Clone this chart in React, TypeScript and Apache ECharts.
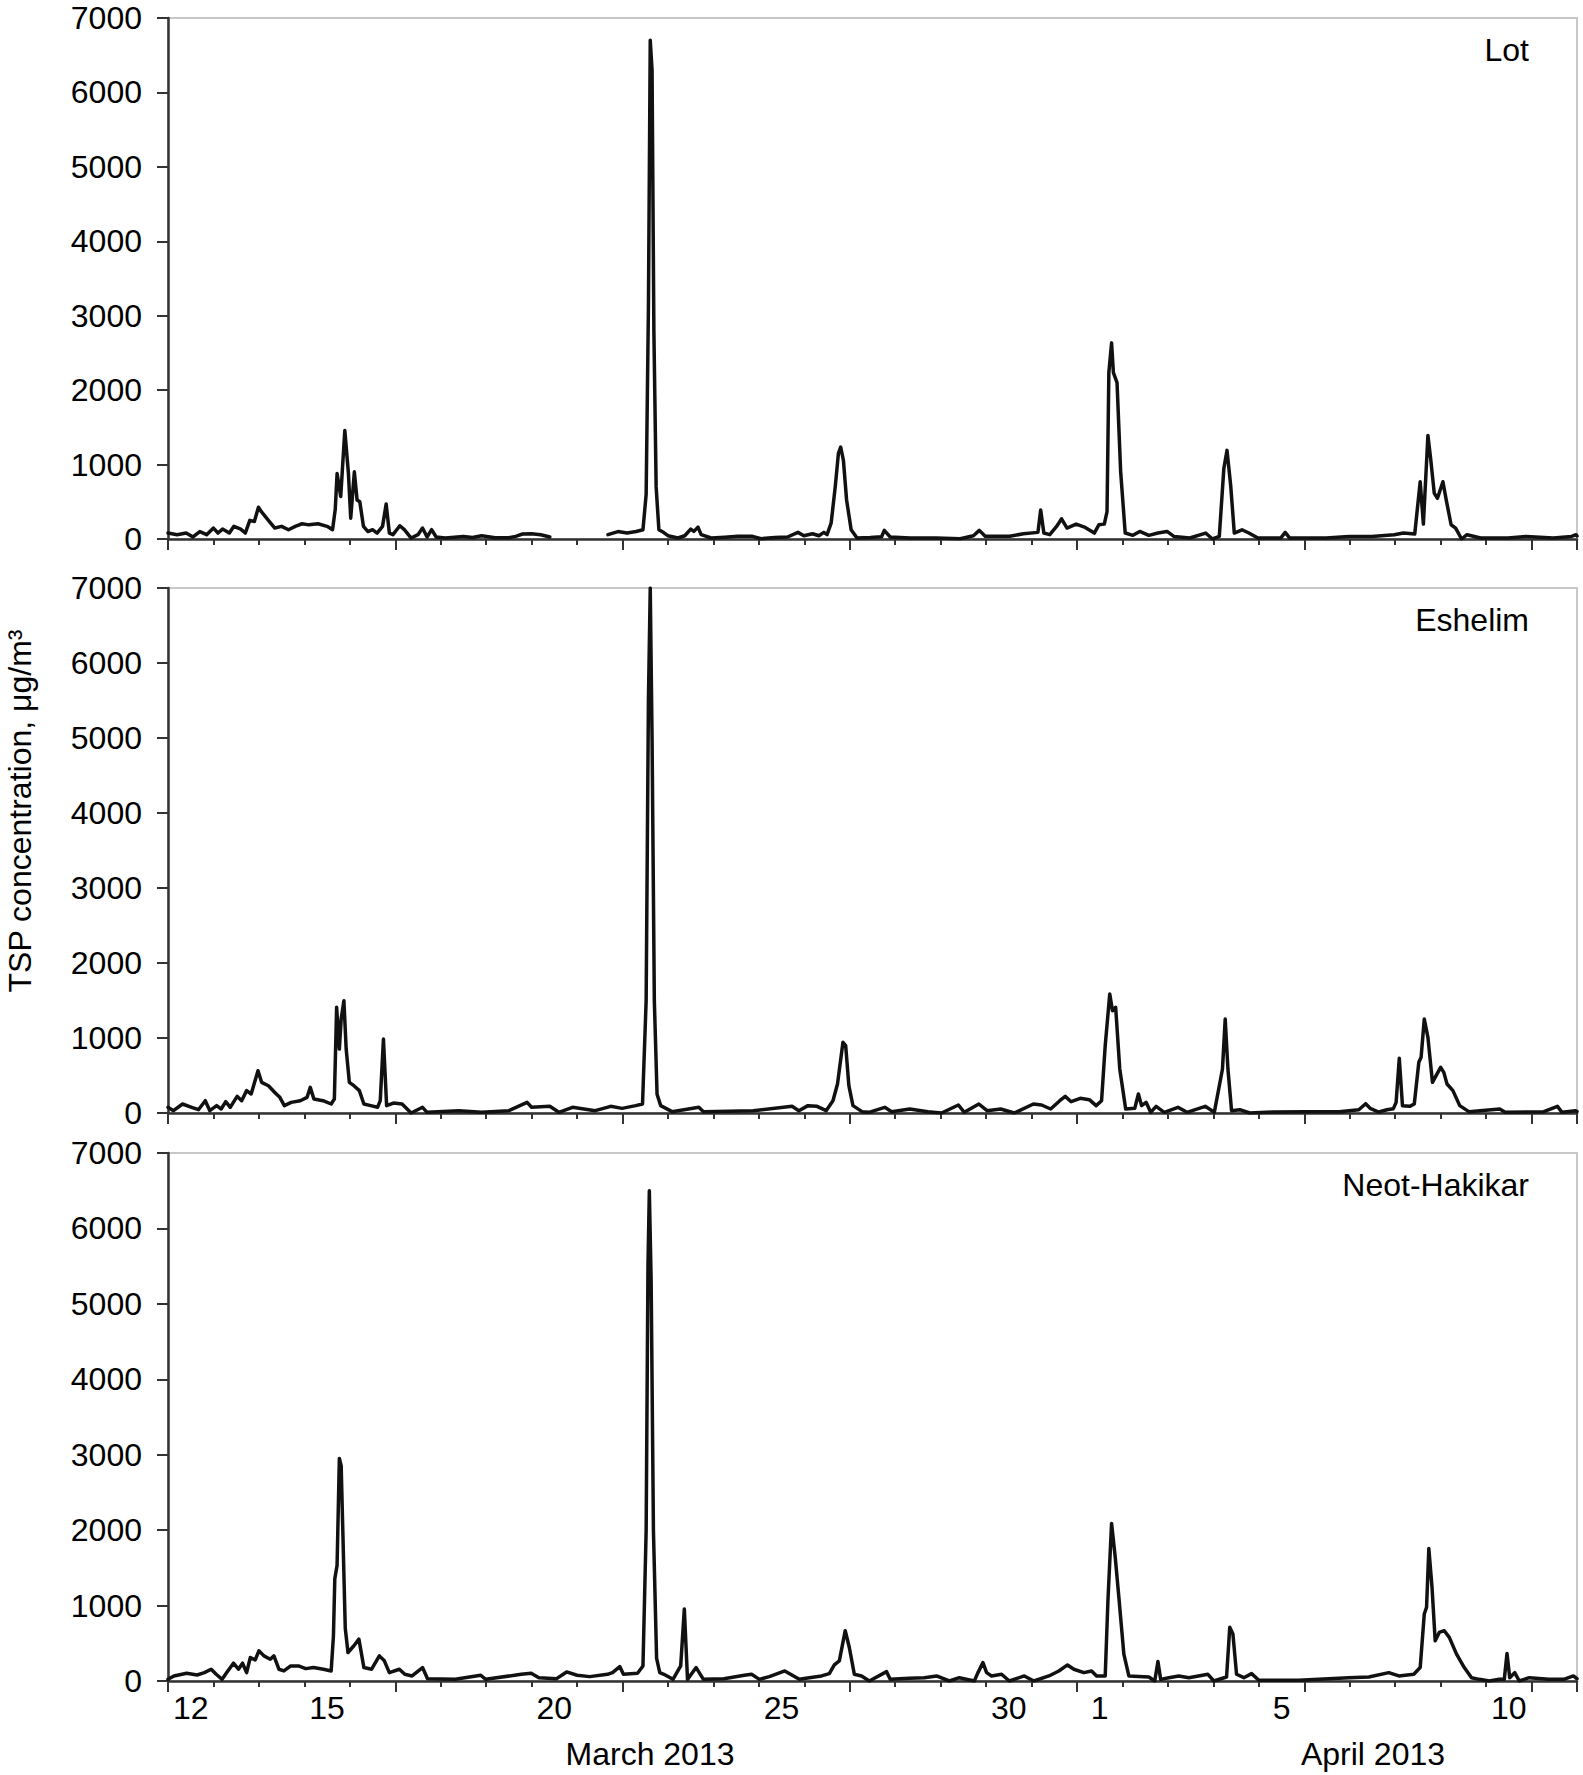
import React, { useEffect, useRef } from "react";
import * as echarts from "echarts";

// x values: days since 12 March 2013 00:00
const dayLabelPos = [0.5, 3.5, 8.5, 13.5, 18.5, 20.5, 24.5, 29.5];
const dayLabelText = ["12", "15", "20", "25", "30", "1", "5", "10"];
const monthLabels = ["March 2013", "April 2013"];
const stationNames = ["Lot", "Eshelim", "Neot-Hakikar"];

const lotDay = [
  0.0, 0.2, 0.4, 0.55, 0.7, 0.85, 1.0, 1.1, 1.2, 1.35, 1.45, 1.6, 1.7, 1.8, 1.9, 1.99, 2.05, 2.2, 2.35, 2.5,
  2.65, 2.8, 2.95, 3.1, 3.3, 3.5, 3.62, 3.68, 3.72, 3.8, 3.89, 3.97, 4.02, 4.1, 4.16, 4.22, 4.3, 4.4, 4.5, 4.6,
  4.72, 4.8, 4.87, 4.95, 5.1, 5.2, 5.35, 5.5, 5.6, 5.7, 5.8, 5.9, 6.1, 6.5, 6.7, 6.9, 7.2, 7.5, 7.65, 7.8,
  8.0, 8.2, 8.4, 8.45, 9.68, 9.9, 10.1, 10.3, 10.45, 10.52, 10.57, 10.61, 10.65, 10.69, 10.74, 10.8,
  10.9, 11.0, 11.22, 11.37, 11.5, 11.57, 11.66, 11.73, 11.95, 12.25, 12.53, 12.86, 13.05, 13.35, 13.63, 13.86, 13.99, 14.18, 14.32, 14.43,
  14.5, 14.59, 14.68, 14.75, 14.8, 14.86, 14.93, 15.03, 15.16, 15.45, 15.7, 15.76, 15.89, 16.33, 16.9, 17.43, 17.72, 17.85, 17.98, 18.52,
  18.82, 19.14, 19.2, 19.27, 19.4, 19.55, 19.66, 19.78, 19.98, 20.18, 20.38,
  20.48, 20.6, 20.66, 20.7, 20.76, 20.8, 20.88, 20.96, 21.06, 21.23, 21.38, 21.58, 21.78, 21.98, 22.13, 22.48, 22.83, 22.98, 23.13, 23.23,
  23.3, 23.38, 23.46, 23.63, 23.78, 23.98, 24.48, 24.58, 24.68, 25.48, 25.98, 26.48, 26.98, 27.18, 27.43, 27.55, 27.62, 27.72, 27.78, 27.86,
  27.93, 28.05, 28.13, 28.23, 28.33, 28.46, 28.58, 28.88, 29.48, 29.88, 30.48, 30.88, 30.98, 31.0,
];
const lotValue = [
  80, 58, 80, 27, 100, 58, 147, 80, 133, 80, 170, 133, 80, 250, 235, 427, 370, 258, 147, 170,
  125, 170, 205, 190, 205, 170, 125, 400, 880, 570, 1458, 880, 280, 902, 524, 500, 170, 100, 125, 80,
  170, 470, 80, 58, 178, 125, 13, 58, 147, 27, 125, 27, 15, 35, 20, 44, 18, 18, 35, 67,
  71, 58, 27, null, 58, 100, 80, 100, 125, 600, 3100, 6700, 6300, 2800, 700, 125,
  90, 44, 13, 44, 133, 102, 160, 58, 13, 25, 36, 36, 4, 20, 27, 89, 44, 71, 44, 89,
  58, 213, 700, 1150, 1235, 1058, 524, 124, 13, 20, 30, 116, 27, 13, 15, 4, 44, 116, 36, 36,
  71, 89, 391, 80, 58, 169, 271, 147, 200, 156, 80,
  191, 200, 369, 2235, 2635, 2235, 2102, 902, 80, 49, 102, 49, 80, 102, 35, 13, 80, 0, 35, 947,
  1191, 724, 80, 124, 80, 13, 13, 89, 13, 13, 35, 35, 58, 80, 67, 769, 200, 1391, 1080, 613,
  547, 769, 502, 191, 147, 0, 58, 13, 13, 35, 13, 35, 58, 40,
];

const eshDay = [
  0.0, 0.12, 0.32, 0.52, 0.67, 0.82, 0.92, 1.07, 1.17, 1.27, 1.37, 1.52, 1.62, 1.73, 1.83, 1.98, 2.06, 2.21, 2.36, 2.46,
  2.56, 2.71, 2.91, 3.06, 3.13, 3.21, 3.41, 3.59, 3.66, 3.71, 3.77, 3.81, 3.87, 3.92, 3.99, 4.09, 4.21, 4.31, 4.46, 4.61,
  4.67, 4.74, 4.81, 4.96, 5.15, 5.35, 5.6, 5.7, 6.4, 6.9, 7.5, 7.9, 8.0, 8.4, 8.6, 8.9, 9.4, 9.74, 9.99, 10.29,
  10.44, 10.52, 10.57, 10.61, 10.65, 10.7, 10.76, 10.84, 11.09, 11.68, 11.78, 12.88, 13.73, 13.88, 14.08, 14.28, 14.48, 14.63, 14.73, 14.85,
  14.91, 14.98, 15.07, 15.27, 15.42, 15.77, 15.92, 16.32, 16.72, 17.02, 17.39, 17.52, 17.84, 18.02, 18.32, 18.62, 19.04, 19.22, 19.42, 19.62,
  19.74, 19.87, 20.07, 20.27, 20.42, 20.54, 20.62, 20.72, 20.78, 20.85, 20.94, 21.07, 21.27, 21.35, 21.42, 21.52, 21.62, 21.74, 21.92, 22.22,
  22.42, 22.82, 23.02, 23.2, 23.26, 23.32, 23.4, 23.58, 23.8, 24.3, 25.04, 25.77, 26.2, 26.35, 26.46, 26.64, 26.82, 26.96, 27.02, 27.09,
  27.16, 27.32, 27.42, 27.52, 27.57, 27.64, 27.72, 27.82, 27.9, 28.0, 28.07, 28.14, 28.27, 28.42, 28.62, 29.3, 29.42, 30.27, 30.57, 30.67,
  30.97, 31.0,
];
const eshValue = [
  76, 31, 120, 76, 44, 164, 31, 98, 53, 151, 76, 222, 164, 298, 253, 564, 409, 364, 267, 209,
  98, 142, 164, 209, 342, 187, 164, 120, 187, 1409, 853, 1253, 1498, 853, 409, 364, 298, 120, 98, 76,
  164, 987, 98, 133, 120, 0, 76, 9, 31, 9, 31, 142, 76, 89, 9, 76, 31, 89, 62, 98,
  120, 1500, 5500, 7000, 5000, 1500, 250, 98, 18, 76, 18, 31, 89, 31, 98, 89, 31, 164, 387, 942,
  898, 364, 98, 18, 9, 76, 18, 53, 18, 0, 107, 9, 120, 31, 53, 0, 120, 107, 53, 164,
  222, 151, 196, 178, 98, 164, 898, 1587, 1364, 1409, 587, 53, 62, 253, 98, 142, 9, 89, 9, 76,
  9, 89, 9, 587, 1253, 587, 31, 44, 0, 13, 18, 18, 44, 124, 58, 13, 44, 58, 142, 729,
  98, 89, 120, 676, 742, 1253, 1009, 409, 498, 609, 542, 387, 298, 98, 18, 53, 9, 18, 89, 9,
  31, 20,
];

const neoDay = [
  0.0, 0.13, 0.41, 0.64, 0.8, 0.95, 1.06, 1.19, 1.3, 1.44, 1.55, 1.64, 1.73, 1.81, 1.92, 2.0, 2.11, 2.25, 2.33, 2.44,
  2.55, 2.7, 2.87, 3.03, 3.2, 3.42, 3.59, 3.64, 3.67, 3.72, 3.77, 3.81, 3.85, 3.9, 3.96, 4.09, 4.2, 4.31, 4.48, 4.65,
  4.76, 4.87, 5.09, 5.21, 5.37, 5.6, 5.71, 6.32, 6.88, 6.99, 7.77, 7.99, 8.16, 8.55, 8.77, 9.0, 9.28, 9.67, 9.78, 9.94,
  10.02, 10.33, 10.45, 10.52, 10.56, 10.59, 10.63, 10.68, 10.75, 10.82, 10.91, 11.11, 11.28, 11.36, 11.43, 11.62, 11.78, 12.23, 12.68, 12.84,
  13.01, 13.23, 13.57, 13.89, 14.11, 14.38, 14.55, 14.66, 14.77, 14.9, 14.99, 15.1, 15.26, 15.43, 15.81, 15.89, 16.31, 16.64, 16.91, 17.19,
  17.41, 17.74, 17.82, 17.93, 18.01, 18.12, 18.34, 18.51, 18.84, 19.05, 19.38, 19.6, 19.79, 19.93, 20.15, 20.32, 20.43, 20.62, 20.68, 20.76,
  20.84, 20.92, 21.03, 21.14, 21.58, 21.71, 21.78, 21.84, 22.02, 22.24, 22.46, 22.88, 23.01, 23.29, 23.36, 23.43, 23.51, 23.67, 23.84, 24.0,
  24.88, 25.98, 26.42, 26.86, 27.08, 27.41, 27.55, 27.64, 27.69, 27.74, 27.81, 27.88, 27.97, 28.08, 28.19, 28.35, 28.52, 28.68, 28.85, 29.07,
  29.29, 29.4, 29.46, 29.52, 29.63, 29.73, 29.95, 30.38, 30.71, 30.92, 31.0,
];
const neoValue = [
  22, 67, 102, 80, 111, 156, 89, 22, 120, 236, 156, 236, 111, 311, 280, 400, 333, 289, 333, 156,
  133, 200, 200, 164, 178, 156, 133, 600, 1355, 1533, 2950, 2850, 1900, 700, 378, 467, 555, 178, 156, 333,
  267, 111, 156, 89, 67, 178, 31, 22, 76, 22, 89, 102, 44, 31, 120, 76, 58, 89, 111, 191,
  89, 102, 200, 2000, 5500, 6500, 5300, 2000, 300, 111, 89, 22, 200, 955, 22, 178, 22, 31, 76, 89,
  22, 58, 133, 22, 44, 67, 98, 213, 267, 667, 444, 89, 67, 0, 124, 22, 36, 44, 67, 0,
  44, 0, 111, 244, 111, 67, 89, 0, 67, 0, 67, 133, 213, 156, 111, 133, 67, 67, 1067, 2089,
  1644, 1111, 356, 67, 53, 0, 258, 22, 44, 67, 44, 89, 0, 53, 711, 622, 89, 44, 98, 9,
  9, 44, 53, 111, 67, 89, 178, 889, 978, 1755, 1244, 533, 644, 667, 578, 356, 178, 44, 22, 0,
  22, 22, 364, 44, 111, 0, 44, 22, 22, 67, 30,
];

const seriesDays = [lotDay, eshDay, neoDay];
const seriesValues = [lotValue, eshValue, neoValue];

const FONT = "'Liberation Sans', Arial, Helvetica, sans-serif";
const GRID_LEFT = 168;
const GRID_WIDTH = 1409;
const panelTops = [18, 588, 1153];
const panelHeights = [521, 525, 528];

function buildOption() {
  const grid: any[] = [];
  const xAxis: any[] = [];
  const yAxis: any[] = [];
  const series: any[] = [];
  const graphic: any[] = [];

  const axisColor = "#333";

  // main panels
  for (let i = 0; i < 3; i++) {
    grid.push({
      left: GRID_LEFT,
      top: panelTops[i],
      width: GRID_WIDTH,
      height: panelHeights[i],
      show: true,
      borderColor: "#c8c8c8",
      borderWidth: 2,
      containLabel: false,
    });
    xAxis.push({
      type: "value",
      gridIndex: i,
      min: 0,
      max: 31,
      interval: 1,
      axisLine: { show: true, onZero: false, lineStyle: { color: axisColor, width: 2.5 } },
      axisTick: { show: true, inside: false, length: 6, lineStyle: { color: axisColor, width: 2 } },
      axisLabel: { show: false },
      splitLine: { show: false },
    });
    yAxis.push({
      type: "value",
      gridIndex: i,
      min: 0,
      max: 7000,
      interval: 1000,
      axisLine: { show: true, onZero: false, lineStyle: { color: axisColor, width: 2.5 } },
      axisTick: { show: true, inside: false, length: 11, lineStyle: { color: axisColor, width: 2 } },
      axisLabel: {
        show: true,
        fontSize: 32,
        lineHeight: 24,
        color: "#000",
        fontFamily: FONT,
        margin: 26,
        formatter: (v: number) => String(v),
      },
      splitLine: { show: false },
    });
    const data = seriesDays[i].map((d, k) => [d, seriesValues[i][k]]);
    series.push({
      type: "line",
      name: stationNames[i],
      xAxisIndex: i,
      yAxisIndex: i,
      data,
      showSymbol: false,
      symbol: "none",
      connectNulls: false,
      lineStyle: { color: "#111", width: 3.5, join: "round", cap: "round" },
      z: 5,
    });
    graphic.push({
      type: "text",
      x: 1529,
      y: panelTops[i] + 32,
      style: {
        text: stationNames[i],
        fontSize: 32,
        fontFamily: FONT,
        fill: "#000",
        textAlign: "right",
        textVerticalAlign: "middle",
      },
    });
  }

  // overlay grids for the longer 5-day ticks
  for (let i = 0; i < 3; i++) {
    const gi = grid.length;
    grid.push({ left: GRID_LEFT, top: panelTops[i], width: GRID_WIDTH, height: panelHeights[i], show: false });
    xAxis.push({
      type: "value",
      gridIndex: gi,
      min: 0,
      max: 31,
      interval: 5,
      axisLine: { show: false, onZero: false },
      axisTick: { show: true, inside: false, length: 11, lineStyle: { color: axisColor, width: 2 } },
      axisLabel: { show: false },
      splitLine: { show: false },
    });
    yAxis.push({ type: "value", gridIndex: gi, min: 0, max: 7000, show: false });
  }

  // label grid for day labels (centred in each day)
  {
    const gi = grid.length;
    grid.push({ left: GRID_LEFT, top: panelTops[2], width: GRID_WIDTH, height: panelHeights[2], show: false });
    xAxis.push({
      type: "value",
      gridIndex: gi,
      min: 0,
      max: 31,
      interval: 0.5,
      axisLine: { show: false, onZero: false },
      axisTick: { show: false },
      axisLabel: {
        show: true,
        fontSize: 32,
        color: "#000",
        fontFamily: FONT,
        margin: 11,
        showMinLabel: true,
        showMaxLabel: true,
        formatter: (v: number) => {
          const idx = dayLabelPos.findIndex((p) => Math.abs(p - v) < 1e-6);
          return idx >= 0 ? dayLabelText[idx] : "";
        },
      },
      splitLine: { show: false },
    });
    yAxis.push({ type: "value", gridIndex: gi, min: 0, max: 7000, show: false });
  }

  graphic.push({
    type: "text",
    x: 650,
    y: 1754,
    style: { text: monthLabels[0], fontSize: 32, fontFamily: FONT, fill: "#000", textAlign: "center", textVerticalAlign: "middle" },
  });
  graphic.push({
    type: "text",
    x: 1373,
    y: 1754,
    style: { text: monthLabels[1], fontSize: 32, fontFamily: FONT, fill: "#000", textAlign: "center", textVerticalAlign: "middle" },
  });
  graphic.push({
    type: "text",
    x: 20,
    y: 811,
    rotation: Math.PI / 2,
    style: {
      text: "TSP concentration, μg/m³",
      fontSize: 32,
      fontFamily: FONT,
      fill: "#000",
      textAlign: "center",
      textVerticalAlign: "middle",
    },
  });

  return {
    animation: false,
    backgroundColor: "#fff",
    grid,
    xAxis,
    yAxis,
    series,
    graphic,
  };
}

export default function App() {
  const ref = useRef<HTMLDivElement>(null);
  useEffect(() => {
    if (!ref.current) return;
    const chart = echarts.init(ref.current, undefined, { renderer: "svg" });
    chart.setOption(buildOption() as any);
    return () => chart.dispose();
  }, []);
  return (
    <div
      ref={ref}
      style={{ position: "absolute", left: 0, top: 0, width: 1583, height: 1775, background: "#fff" }}
    />
  );
}
